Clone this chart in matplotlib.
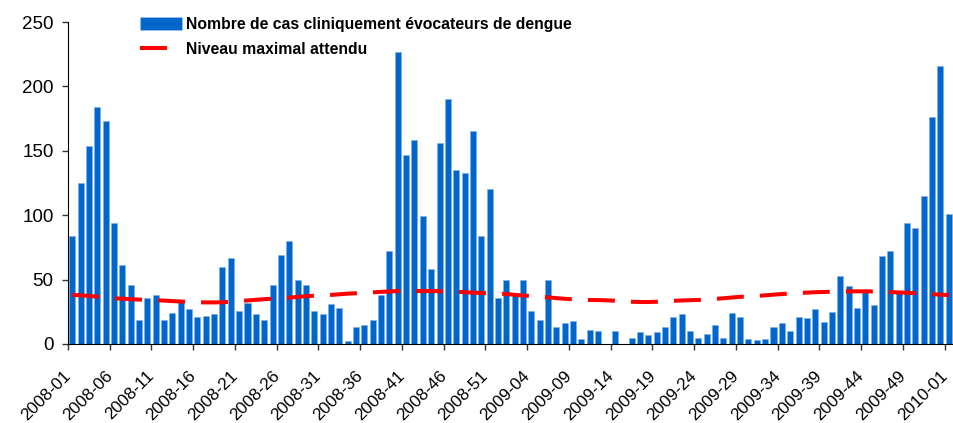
import numpy as np
import matplotlib
matplotlib.use("Agg")
from matplotlib import pyplot as plt
from matplotlib.lines import Line2D
from matplotlib.patches import Patch
from matplotlib.transforms import ScaledTranslation

plt.rcParams['font.family'] = ['Liberation Sans', 'DejaVu Sans']
plt.rcParams['lines.scale_dashes'] = False

# weeks 2008-01 .. 2008-52, 2009-01 .. 2009-53, 2010-01
weeks = (['2008-%02d' % w for w in range(1, 53)]
         + ['2009-%02d' % w for w in range(1, 54)]
         + ['2010-01'])

# weekly number of clinically suggestive dengue cases
cases_2008 = [84, 125, 154, 184, 173, 94, 61, 46, 19, 36,
              38, 19, 24, 33, 27, 21, 22, 23, 60, 67,
              26, 32, 23, 19, 46, 69, 80, 50, 46, 26,
              23, 31, 28, 2, 13, 15, 19, 38, 72, 227,
              147, 158, 99, 58, 156, 190, 135, 133, 165, 84,
              120, 36]
cases_2009 = [50, 39, 50, 26, 19, 50, 13, 16, 18, 4,
              11, 10, 0, 10, 0, 5, 9, 7, 9, 13,
              21, 23, 10, 5, 8, 15, 5, 24, 21, 4,
              3, 4, 13, 16, 10, 21, 20, 27, 17, 25,
              53, 45, 28, 41, 30, 68, 72, 40, 94, 90,
              115, 176, 216]
cases_2010 = [101]
cases = cases_2008 + cases_2009 + cases_2010

# expected maximum level (one value per week)
max_level = [38.2, 37.8, 37.3, 36.8, 36.3, 35.5, 35.2, 34.8, 34.5, 34.3,
             34.0, 33.7, 33.3, 33.0, 32.7, 32.4, 32.3, 32.3, 32.4, 32.8,
             33.4, 33.8, 34.3, 34.8, 35.2, 35.5, 36.0, 36.6, 37.1, 37.5,
             37.8, 38.1, 38.6, 39.1, 39.4, 39.8, 40.1, 40.5, 40.8, 41.1,
             41.1, 41.1, 41.1, 41.1, 41.0, 40.8, 40.6, 40.2, 39.9, 39.6,
             39.4, 39.2, 38.8, 38.2, 37.6, 37.3, 36.8, 36.2, 35.6, 35.1,
             34.7, 34.4, 34.2, 34.1, 33.9, 33.6, 33.2, 32.8, 32.6, 32.6,
             32.8, 33.2, 33.5, 33.8, 34.0, 34.2, 34.7, 35.0, 35.5, 36.1,
             36.6, 37.0, 37.3, 37.8, 38.3, 38.8, 39.2, 39.6, 39.9, 40.2,
             40.4, 40.6, 40.8, 40.9, 40.9, 40.9, 40.8, 40.6, 40.3, 40.0,
             39.8, 39.5, 39.1, 38.7, 38.3, 38.0]

x = np.arange(len(weeks))

fig = plt.figure(figsize=(9.54, 4.23), dpi=100)
ax = fig.add_axes([68 / 954, 1 - 344 / 423, 885 / 954, 322 / 423])

ax.bar(x, cases, width=0.72, color='#0066CC', edgecolor='#7fb0e6', linewidth=0.4, zorder=2)
line, = ax.plot(x, max_level, color='#FF0000', linewidth=2.9, solid_capstyle='butt', zorder=3)
line.set_dashes([19.4, 11.6])
line.set_dash_capstyle('butt')

ax.set_xlim(-0.5, len(weeks) - 0.5)
ax.set_ylim(0, 250)
ax.set_yticks([0, 50, 100, 150, 200, 250])
ax.set_xticks(x[::5] - 0.5)
ax.set_xticklabels(weeks[::5])

ax.spines['top'].set_visible(False)
ax.spines['right'].set_visible(False)
ax.tick_params(axis='both', direction='out', length=4.3, width=1, color='#333333', labelsize=13.5, pad=6)
ax.tick_params(axis='x', labelsize=12.3, pad=5)

shift = ScaledTranslation(-5 / 100, -11 / 100, fig.dpi_scale_trans)
for lab in ax.get_xticklabels():
    lab.set_rotation(45)
    lab.set_ha('right')
    lab.set_rotation_mode('anchor')
    lab.set_transform(lab.get_transform() + shift)

bar_h = Patch(facecolor='#0066CC', edgecolor='#9cc3ee', linewidth=0.6)
line_h = Line2D([], [], color='#FF0000', linewidth=2.9, dashes=[19.4, 11.6], solid_capstyle='butt')
leg = ax.legend([bar_h, line_h],
                ['Nombre de cas cliniquement évocateurs de dengue', 'Niveau maximal attendu'],
                loc='upper left', bbox_to_anchor=(140 / 954, 1 - 17 / 423),
                bbox_transform=fig.transFigure, frameon=False,
                prop={'weight': 'bold', 'size': 11.3},
                handlelength=2.7, handleheight=0.85, handletextpad=0.2,
                labelspacing=0.62, borderpad=0, borderaxespad=0)

fig.savefig('out.png', dpi=100)
